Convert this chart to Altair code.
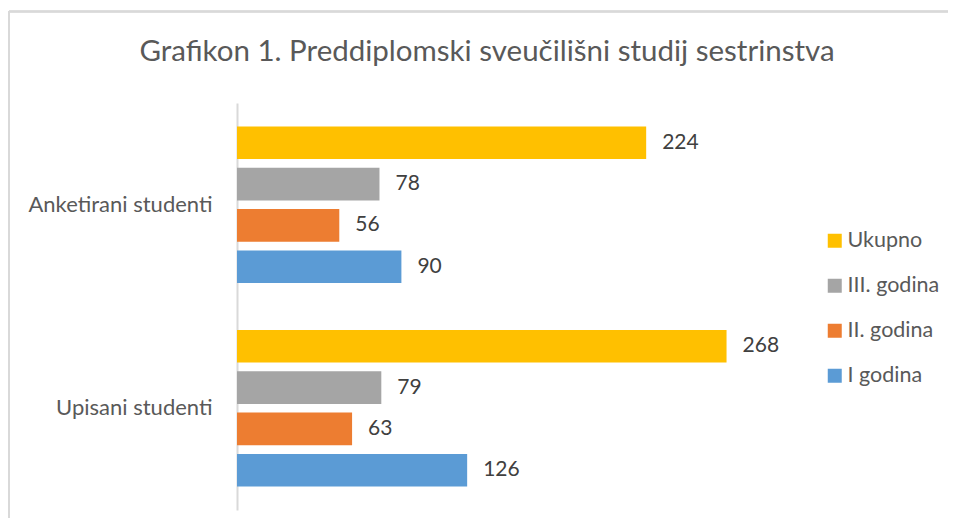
import altair as alt
import pandas as pd

categories = ["Anketirani studenti", "Upisani studenti"]
series = ["Ukupno", "III. godina", "II. godina", "I godina"]
colors = ["#FFC000", "#A5A5A5", "#ED7D31", "#5B9BD5"]
anketirani = [224, 78, 56, 90]
upisani = [268, 79, 63, 126]

rows = []
for s, v in zip(series, anketirani):
    rows.append({"kategorija": categories[0], "serija": s, "vrijednost": v})
for s, v in zip(series, upisani):
    rows.append({"kategorija": categories[1], "serija": s, "vrijednost": v})
df = pd.DataFrame(rows)

W, H = 548, 407
PL, PT, PR, PB = 229, 95, 163, 8
FONT = "Lato"

base = alt.Chart(df).encode(
    y=alt.Y(
        "kategorija:N",
        sort=categories,
        title=None,
        scale=alt.Scale(paddingInner=0.19, paddingOuter=0.095),
        axis=alt.Axis(
            domain=True,
            domainColor="#d9d9d9",
            domainWidth=2,
            ticks=False,
            grid=False,
            labelFont=FONT,
            labelFontSize=22,
            labelColor="#595959",
            labelPadding=25,
            labelAlign="right",
            labelLimit=400,
        ),
    ),
    yOffset=alt.YOffset(
        "serija:N", sort=series, scale=alt.Scale(paddingInner=0.21, paddingOuter=0.1)
    ),
)

bars = base.mark_bar().encode(
    x=alt.X(
        "vrijednost:Q",
        scale=alt.Scale(domain=[0, 300], nice=False),
        axis=None,
    ),
    color=alt.Color(
        "serija:N",
        sort=series,
        scale=alt.Scale(domain=series, range=colors),
        legend=alt.Legend(
            title=None,
            orient="none",
            legendX=587,
            legendY=127,
            symbolType="square",
            symbolSize=196,
            symbolStrokeWidth=0,
            labelFont=FONT,
            labelFontSize=21.5,
            labelColor="#595959",
            labelOffset=2,
            rowPadding=22,
            padding=0,
        ),
    ),
)

labels = base.mark_text(
    align="left", baseline="middle", dx=16, font=FONT, fontSize=21, color="#404040"
).encode(
    x=alt.X("vrijednost:Q"),
    text=alt.Text("vrijednost:Q"),
)

border_top = alt.Chart(df).mark_rule(color="#d9d9d9", strokeWidth=1.5).encode(
    x=alt.value(-PL + 1), x2=alt.value(W + PR), y=alt.value(-PT + 3.5)
)
border_left = alt.Chart(df).mark_rule(color="#d9d9d9", strokeWidth=1.5).encode(
    x=alt.value(-PL + 1), y=alt.value(-PT + 3), y2=alt.value(H + PB)
)

chart = (
    alt.layer(bars, labels, border_top, border_left)
    .properties(
        width=W,
        height=H,
        autosize=alt.AutoSizeParams(type="none"),
        padding={"left": PL, "top": PT, "right": PR, "bottom": PB},
        title=alt.TitleParams(
            "Grafikon 1. Preddiplomski sveučilišni studij sestrinstva",
            font=FONT,
            fontSize=29.5,
            fontWeight="normal",
            color="#595959",
            anchor="middle",
            frame="group",
            dx=-24,
            offset=-80.5,
            baseline="alphabetic",
        ),
    )
    .configure_view(stroke=None)
)

chart.save("out.html", embed_options={"renderer": "svg", "actions": False})
